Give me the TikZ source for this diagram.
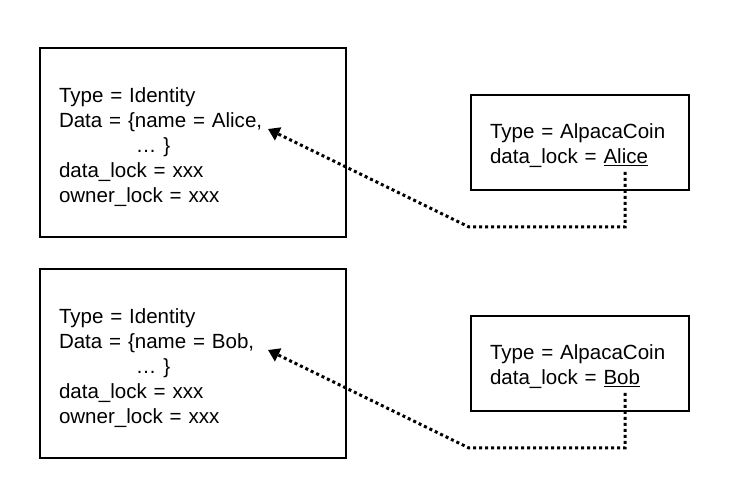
\documentclass[tikz,border=0pt]{standalone}
\usepackage{fontspec}
\setmainfont{Liberation Sans}
\usetikzlibrary{arrows.meta}
\newcommand\padtop[1]{\rule{0pt}{#1}}

\begin{document}
\begin{tikzpicture}[x=0.75pt,y=0.75pt]
\tikzset{record/.style={draw,line width=1.5pt,shape=rectangle,anchor=north west,
	align=left,inner xsep=14.25pt,font=\fontsize{15.4pt}{18.75pt}\selectfont}}
\tikzset{identity/.style={record,text width=201pt,minimum width=229.5pt,minimum height=141.75pt}}
\tikzset{coin/.style={record,text width=135pt,minimum width=163.5pt,minimum height=71.25pt}}
\tikzset{lockref/.style={line width=2.25pt,dash pattern=on 2.25pt off 2.25pt,
	-{Triangle[length=8.5pt,width=10.5pt]}}}

\useasboundingbox (0,0) rectangle (736,498);

% Alice
\node[identity] (idA) at (39,451) {\padtop{18.7pt}Type = Identity\\
Data = \{name = Alice,\\
\hspace*{57.75pt}… \}\\
data\_lock = xxx\\
owner\_lock = xxx};
\node[coin] (coinA) at (470,404) {\padtop{15.7pt}Type = AlpacaCoin\\
data\_lock = \underline{Alice}};
\coordinate (sA) at (625,326);
\coordinate (kA) at (469,271);
\coordinate (tA) at (268,369);
\draw[lockref] (sA) |- (kA) -- (tA);

% Bob
\node[identity] (idB) at (39,230) {\padtop{18.7pt}Type = Identity\\
Data = \{name = Bob,\\
\hspace*{57.75pt}… \}\\
data\_lock = xxx\\
owner\_lock = xxx};
\node[coin] (coinB) at (470,183) {\padtop{15.7pt}Type = AlpacaCoin\\
data\_lock = \underline{Bob}};
\coordinate (sB) at (625,105);
\coordinate (kB) at (469,50);
\coordinate (tB) at (268,148);
\draw[lockref] (sB) |- (kB) -- (tB);

\end{tikzpicture}
\end{document}
